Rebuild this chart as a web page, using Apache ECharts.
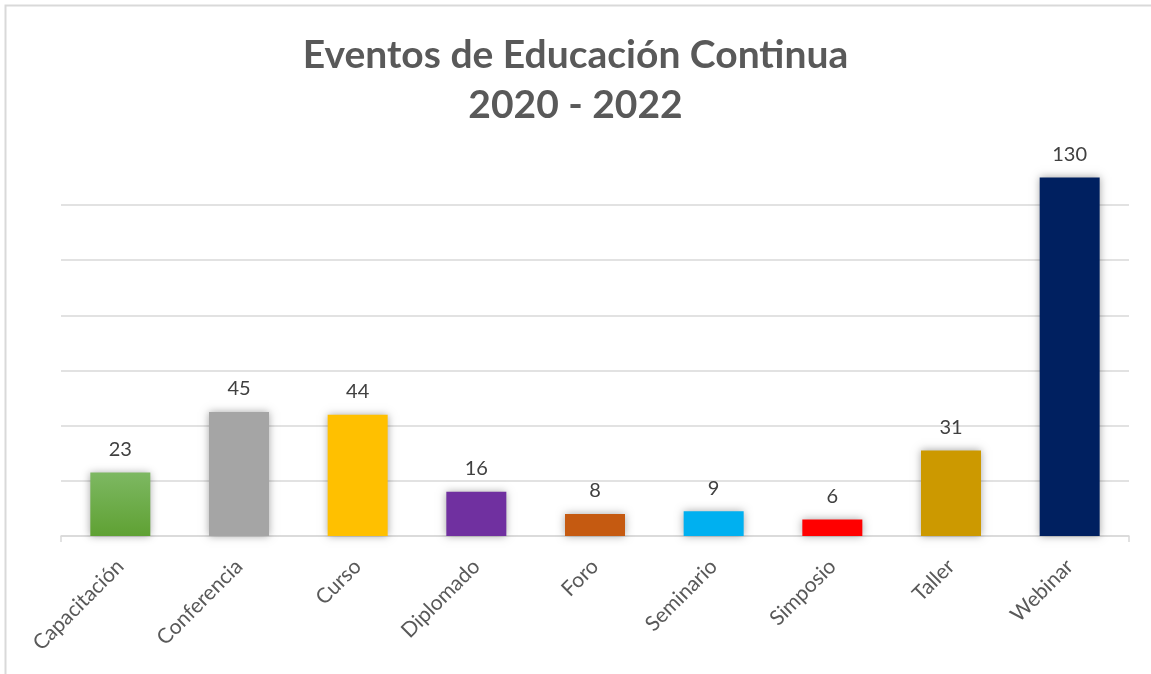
<!DOCTYPE html>
<html>
<head>
<meta charset="utf-8">
<script src="https://cdn.jsdelivr.net/npm/echarts@6/dist/echarts.min.js"></script>
<style>
  html, body { margin: 0; padding: 0; background: #ffffff; }
  #chart { width: 1151px; height: 674px; }
</style>
</head>
<body>
<div id="chart"></div>
<script>
"use strict";

// data
var categories = ['Capacitación', 'Conferencia', 'Curso', 'Diplomado', 'Foro', 'Seminario', 'Simposio', 'Taller', 'Webinar'];
var eventCounts = [23, 45, 44, 16, 8, 9, 6, 31, 130];
var barColors = ['#70AD47', '#A5A5A5', '#FFC000', '#7030A0', '#C55A11', '#00B0F0', '#FF0000', '#CC9900', '#002060'];

var chart = echarts.init(document.getElementById('chart'));

var seriesData = eventCounts.map(function (v, i) {
  var color = barColors[i];
  if (i === 0) {
    // first bar has a soft vertical gradient
    color = new echarts.graphic.LinearGradient(0, 0, 0, 1, [
      { offset: 0, color: '#7DB862' },
      { offset: 1, color: '#5FA133' }
    ]);
  }
  return { value: v, itemStyle: { color: color } };
});

var option = {
  backgroundColor: '#ffffff',
  title: {
    text: 'Eventos de Educación Continua\n2020 - 2022',
    left: 'center',
    top: 25,
    textStyle: {
      fontFamily: 'Lato',
      fontSize: 39,
      fontWeight: 'bold',
      color: '#595959',
      lineHeight: 50
    }
  },
  graphic: [{
    type: 'rect',
    shape: { x: 5.5, y: 5.5, width: 1200, height: 720 },
    style: { fill: 'none', stroke: '#D9D9D9', lineWidth: 2 },
    silent: true
  }],
  grid: {
    left: 61,
    right: 22,
    top: 205,
    bottom: 138
  },
  xAxis: {
    type: 'category',
    data: categories,
    axisLine: { lineStyle: { color: '#D9D9D9', width: 1.5 } },
    axisTick: {
      show: true,
      length: 6,
      lineStyle: { color: '#D9D9D9', width: 1.5 },
      interval: function (idx) { return idx === 0; }
    },
    axisLabel: {
      rotate: 45,
      fontFamily: 'Lato',
      fontSize: 21,
      color: '#595959',
      margin: 27
    }
  },
  yAxis: {
    type: 'value',
    min: 0,
    max: 120,
    interval: 20,
    axisLabel: { show: false },
    axisLine: { show: false },
    axisTick: { show: false },
    splitLine: { lineStyle: { color: '#D9D9D9', width: 1.5 } }
  },
  series: [{
    type: 'bar',
    data: seriesData,
    barWidth: 60,
    clip: false,
    itemStyle: {
      shadowBlur: 8,
      shadowColor: 'rgba(0,0,0,0.35)'
    },
    label: {
      show: true,
      position: 'top',
      distance: 13,
      fontFamily: 'Lato',
      fontSize: 20,
      color: '#404040'
    }
  }]
};

chart.setOption(option);
</script>
</body>
</html>
